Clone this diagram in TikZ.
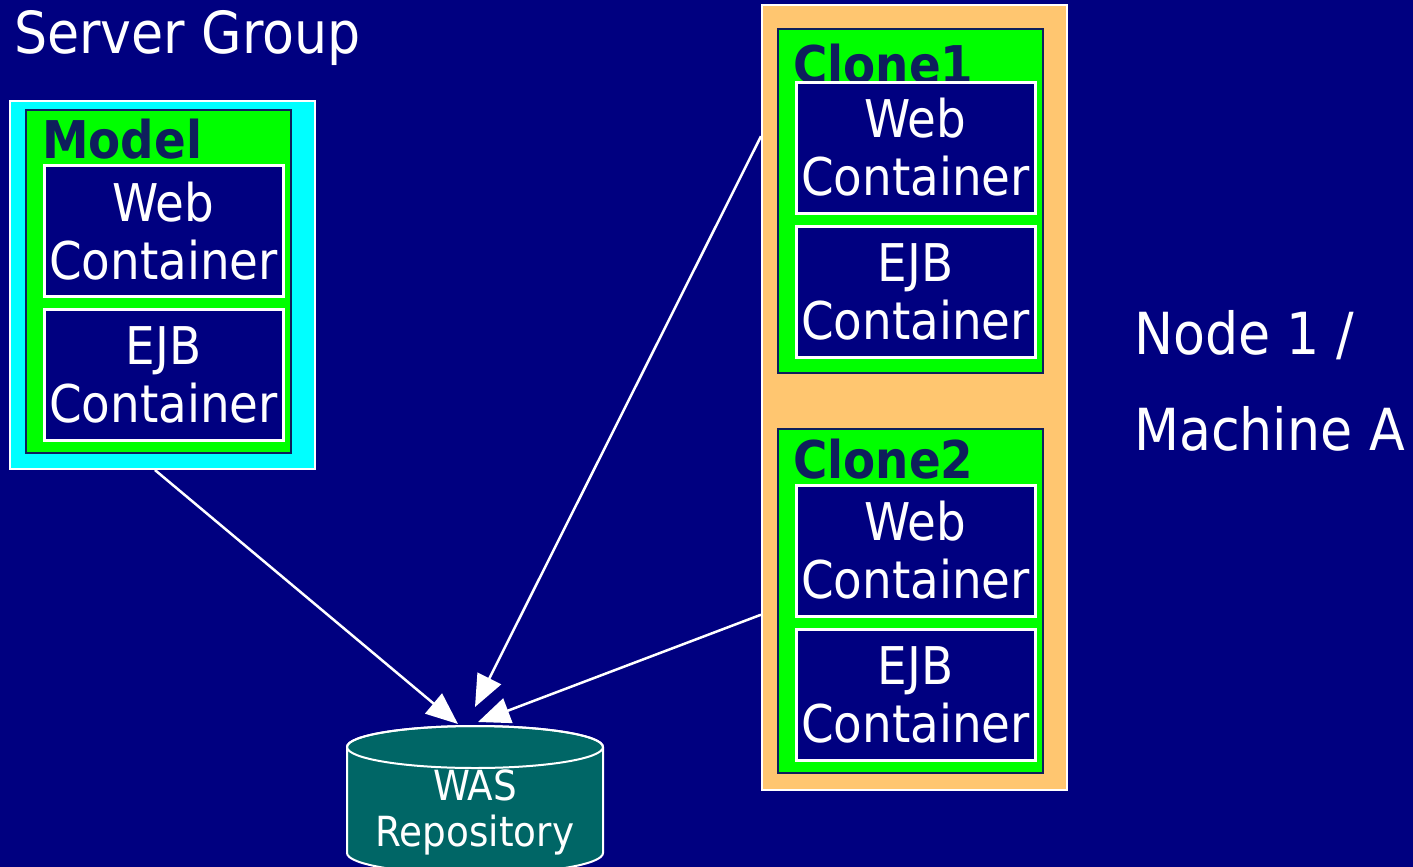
\documentclass[tikz,border=0pt]{standalone}
\usepackage{xcolor}
\usepackage{tikz}
\usepackage{fontspec}
\setmainfont{DejaVu Sans Condensed}
\usetikzlibrary{arrows.meta, positioning, calc}
\definecolor{slidebg}{HTML}{000080}
\definecolor{groupcyan}{HTML}{00FFFF}
\definecolor{clonegreen}{HTML}{00FF00}
\definecolor{machineorange}{HTML}{FFC670}
\definecolor{labelnavy}{HTML}{0E1F5C}
\definecolor{repoteal}{HTML}{006666}
\tikzstyle{outerbox} = [rectangle, draw=white, line width=2pt, inner sep=0pt]
\tikzstyle{clonebox} = [rectangle, draw=labelnavy, fill=clonegreen, line width=2pt, minimum width=265pt, minimum height=343pt, inner sep=0pt]
\tikzstyle{clonelabel} = [anchor=base west, inner sep=0pt, text=labelnavy, font=\fontsize{52}{58}\selectfont\bfseries]
\tikzstyle{container} = [rectangle, draw=white, fill=slidebg, line width=3pt, minimum width=239pt, minimum height=131pt, inner sep=0pt, align=center, text=white, font=\fontsize{52}{58}\selectfont]
\tikzstyle{caption} = [anchor=base west, inner sep=0pt, text=white, font=\fontsize{58}{64}\selectfont]
\tikzstyle{arrow} = [line width=2.5pt, white, -{Triangle[length=32pt, width=26pt]}]

\begin{document}
\begin{tikzpicture}[x=1pt, y=-1pt]
    \useasboundingbox (0,0) rectangle (1413,867);
    \fill[slidebg] (0,0) rectangle (1413,867);

    % server group with the model
    \node[caption] (grouptitle) at (14,54) {Server Group};
    \node[outerbox, fill=groupcyan, minimum width=305pt, minimum height=368pt] (model) at (162,285) {};
    \node[clonebox] (modelbox) at (158.5,281.5) {};
    \node[clonelabel] (modeltitle) at (42,158) {Model};
    \node[container] (modelweb) at (163.5,231) {Web\\Container};
    \node[container] (modelejb) at (163.5,374.5) {EJB\\Container};

    % machine A with both clones
    \node[outerbox, fill=machineorange, minimum width=305pt, minimum height=785pt] (machine) at (914.5,397.5) {};
    \node[clonebox, minimum height=344pt] (cloneA) at (910,201) {};
    \node[clonelabel] (cloneAtitle) at (793,84) {Clone1};
    \node[container] (cloneAweb) at (915.5,147.5) {Web\\Container};
    \node[container] (cloneAejb) at (915.5,291.5) {EJB\\Container};
    \node[clonebox, minimum height=344pt] (cloneB) at (910,601) {};
    \node[clonelabel] (cloneBtitle) at (793,478) {Clone2};
    \node[container] (cloneBweb) at (915.5,550.5) {Web\\Container};
    \node[container] (cloneBejb) at (915.5,694.5) {EJB\\Container};

    \node[caption] (nodename) at (1134,354) {Node 1 /};
    \node[caption] (machinename) at (1134,450) {Machine A};

    % repository
    \filldraw[fill=repoteal, draw=white, line width=2pt] (347,747) -- (347,853)
        arc[start angle=180, end angle=0, x radius=128, y radius=21] -- (603,747)
        arc[start angle=0, end angle=-180, x radius=128, y radius=21] -- cycle;
    \draw[white, line width=2pt] (475,747) ellipse [x radius=128, y radius=21];
    \node[align=center, text=white, inner sep=0pt, font=\fontsize{41.5}{46}\selectfont] (repo) at (475,812) {WAS\\Repository};

    \coordinate (tipA) at (458,724);
    \coordinate (tipB) at (475,707);
    \coordinate (tipC) at (478,722);
    \draw[arrow] ($(model.south west)!0.477!(model.south east)$) -- (tipA);
    \draw[arrow] ($(machine.north west)!0.168!(machine.south west)$) -- (tipB);
    \draw[arrow] ($(machine.north west)!0.776!(machine.south west)$) -- (tipC);
\end{tikzpicture}
\end{document}
